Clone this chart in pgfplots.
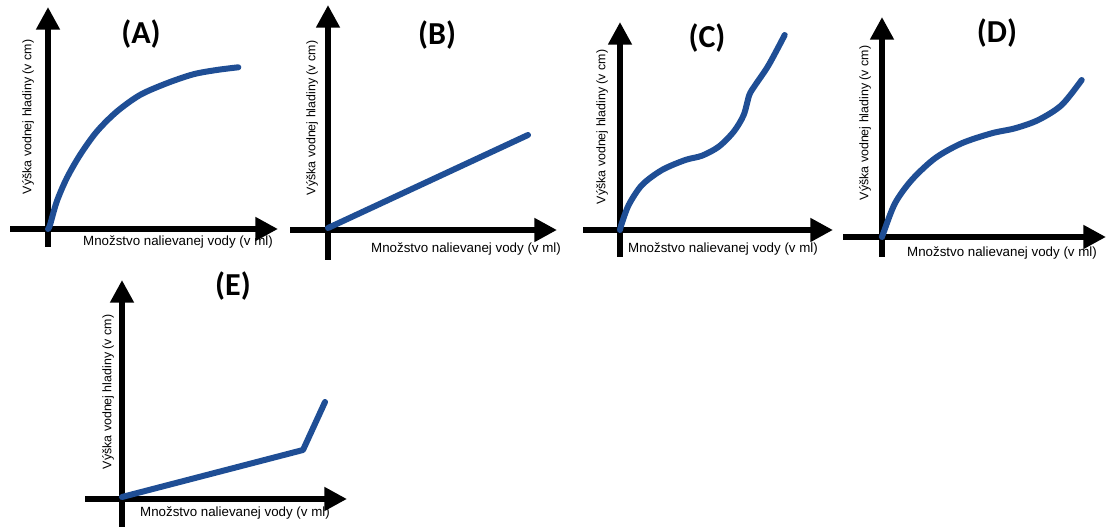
\documentclass[border=0pt]{standalone}
\usepackage{pgfplots}
\pgfplotsset{compat=1.18}
\usetikzlibrary{arrows.meta}
\usepackage{fontspec}
\setmainfont{Liberation Sans}
\newfontfamily\titlefont{Carlito}
\definecolor{lineblue}{HTML}{1F4E95}
\newcommand\pxu{0.75pt}

\pgfplotsset{
  panel/.style={
    x=\pxu, y=\pxu, anchor=origin, clip=false,
    axis x line*=middle, axis y line*=middle,
    xtick=\empty, ytick=\empty,
    axis line style={black, line width=4.5pt, -{Triangle[length=17pt,width=17pt]}},
  },
  waterline/.style={lineblue, line width=4.5pt, line cap=round, line join=round, no markers},
}

\begin{document}
\begin{tikzpicture}[x=\pxu, y=\pxu]
\useasboundingbox (0,0) rectangle (1106,527);

% (A)
\begin{axis}[panel, at={(48*\pxu,298*\pxu)}, xmin=-38, xmax=230, ymin=-18, ymax=222]
\addplot[waterline, smooth] coordinates {(0,0) (2,4) (8.7,27.3) (18.7,50.7) (32,74) (48.7,97.3) (68.7,117.3) (92,134) (118.7,145.7) (145.3,154.7) (168.7,159) (190.3,161.7)};
\end{axis}

% (B)
\begin{axis}[panel, at={(328*\pxu,297*\pxu)}, xmin=-38, xmax=229, ymin=-30, ymax=225]
\addplot[waterline] coordinates {(0,2) (200,95)};
\end{axis}

% (C)
\begin{axis}[panel, at={(620*\pxu,297*\pxu)}, xmin=-37, xmax=213, ymin=-27, ymax=208]
\addplot[waterline, smooth] coordinates {(0,0) (1.3,5) (8.7,25) (22,45) (42,60) (65.3,70) (82,74.3) (98.7,83.3) (113.7,98.3) (123.7,115) (129.3,135) (135.3,145) (148.7,165) (164.7,195)};
\end{axis}

% (D)
\begin{axis}[panel, at={(882*\pxu,290*\pxu)}, xmin=-39, xmax=224, ymin=-20, ymax=220]
\addplot[waterline, smooth] coordinates {(0,0) (1.3,3.7) (13,33.7) (29.7,57) (53,78.7) (79.7,93.7) (109.7,103.7) (133,108.7) (156.3,117) (179.7,132) (199.7,157)};
\end{axis}

% (E)
\begin{axis}[panel, at={(122*\pxu,28*\pxu)}, xmin=-37, xmax=225, ymin=-28, ymax=219]
\addplot[waterline] coordinates {(0,2) (181,49) (203,97)};
\end{axis}

\tikzset{ttl/.style={font=\titlefont\bfseries\fontsize{24}{24}\selectfont, inner sep=0pt},
  xl/.style={font=\fontsize{10}{10}\selectfont, inner sep=0pt},
  yl/.style={font=\fontsize{9.3}{9.3}\selectfont, inner sep=0pt, rotate=90}}

\node[ttl] at (141,493) {(A)};
\node[yl] at (28,410) {Výška vodnej hladiny (v cm)};
\node[xl] at (178,285) {Množstvo nalievanej vody (v ml)};

\node[ttl] at (437,492) {(B)};
\node[yl] at (312,409) {Výška vodnej hladiny (v cm)};
\node[xl] at (466,278) {Množstvo nalievanej vody (v ml)};

\node[ttl] at (707,489) {(C)};
\node[yl] at (602,400) {Výška vodnej hladiny (v cm)};
\node[xl] at (723,278) {Množstvo nalievanej vody (v ml)};

\node[ttl] at (997,494) {(D)};
\node[yl] at (865,404) {Výška vodnej hladiny (v cm)};
\node[xl] at (1002,274) {Množstvo nalievanej vody (v ml)};

\node[ttl] at (233,241) {(E)};
\node[yl] at (108,135) {Výška vodnej hladiny (v cm)};
\node[xl] at (235,14) {Množstvo nalievanej vody (v ml)};
\end{tikzpicture}
\end{document}
